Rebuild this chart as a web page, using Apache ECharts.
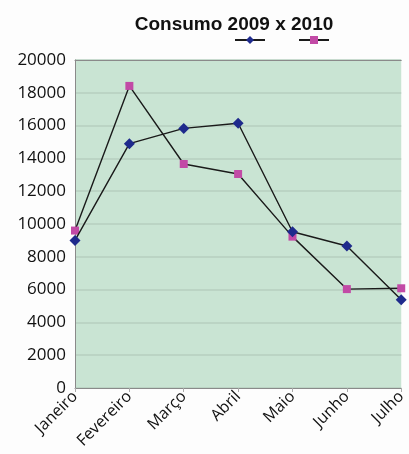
<!DOCTYPE html>
<html>
<head>
<meta charset="utf-8">
<script src="https://cdn.jsdelivr.net/npm/echarts@6/dist/echarts.min.js"></script>
<style>
  html, body { margin: 0; padding: 0; background: #fdfdfd; }
  #chart { width: 409px; height: 454px; }
</style>
</head>
<body>
<div id="chart"></div>
<script>
// Monthly consumption, 2009 vs 2010
const months = ['Janeiro', 'Fevereiro', 'Março', 'Abril', 'Maio', 'Junho', 'Julho'];
const consumo2009 = [9000, 14900, 15830, 16140, 9530, 8660, 5380];
const consumo2010 = [9600, 18420, 13660, 13050, 9230, 6030, 6080];
const yTicks = { min: 0, max: 20000, step: 2000 };

const chart = echarts.init(document.getElementById('chart'));
const labelFont = "'Open Sans', 'Noto Sans', sans-serif";
const frameColor = '#8a8a8a';

chart.setOption({
  animation: false,
  backgroundColor: '#fdfdfd',
  title: {
    text: 'Consumo 2009 x 2010',
    left: 229,
    textAlign: 'center',
    top: 10,
    textStyle: {
      fontFamily: "'Liberation Sans', Arial, sans-serif",
      fontWeight: 'bold',
      fontSize: 19,
      color: '#111'
    }
  },
  legend: {
    top: 30,
    left: 229,
    itemWidth: 30,
    itemHeight: 10,
    itemGap: 32,
    formatter: () => '',
    data: ['2009', '2010']
  },
  grid: {
    left: 75,
    right: 0,
    top: 60,
    bottom: 66,
    show: true,
    backgroundColor: '#c9e4d3',
    borderWidth: 0
  },
  xAxis: [
    {
      type: 'category',
      data: months,
      boundaryGap: false,
      axisLine: { lineStyle: { color: frameColor } },
      axisTick: { show: true, length: 4, alignWithLabel: true, lineStyle: { color: '#aaa' } },
      axisLabel: {
        rotate: 45,
        interval: 0,
        margin: 6,
        fontFamily: labelFont,
        fontSize: 16,
        color: '#111'
      }
    },
    {
      // top edge of the plot frame
      type: 'category',
      data: months,
      position: 'top',
      boundaryGap: false,
      axisLine: { show: true, onZero: false, lineStyle: { color: frameColor } },
      axisTick: { show: false },
      axisLabel: { show: false }
    }
  ],
  yAxis: {
    type: 'value',
    min: yTicks.min,
    max: yTicks.max,
    interval: yTicks.step,
    axisLine: { show: true, lineStyle: { color: frameColor } },
    axisTick: { show: false },
    splitLine: { lineStyle: { color: '#b6cfbf', width: 1.5 } },
    axisLabel: {
      margin: 9,
      fontFamily: labelFont,
      fontSize: 17,
      color: '#111',
      formatter: (v) => String(v)
    }
  },
  series: [
    {
      name: '2009',
      type: 'line',
      data: consumo2009,
      symbol: 'diamond',
      symbolSize: 11,
      itemStyle: { color: '#1e2a8c' },
      lineStyle: { color: '#1a1a1a', width: 1.4 },
      z: 3
    },
    {
      name: '2010',
      type: 'line',
      data: consumo2010,
      symbol: 'rect',
      symbolSize: 8,
      itemStyle: { color: '#c24aa6' },
      lineStyle: { color: '#1a1a1a', width: 1.4 },
      z: 2
    }
  ]
});
</script>
</body>
</html>
